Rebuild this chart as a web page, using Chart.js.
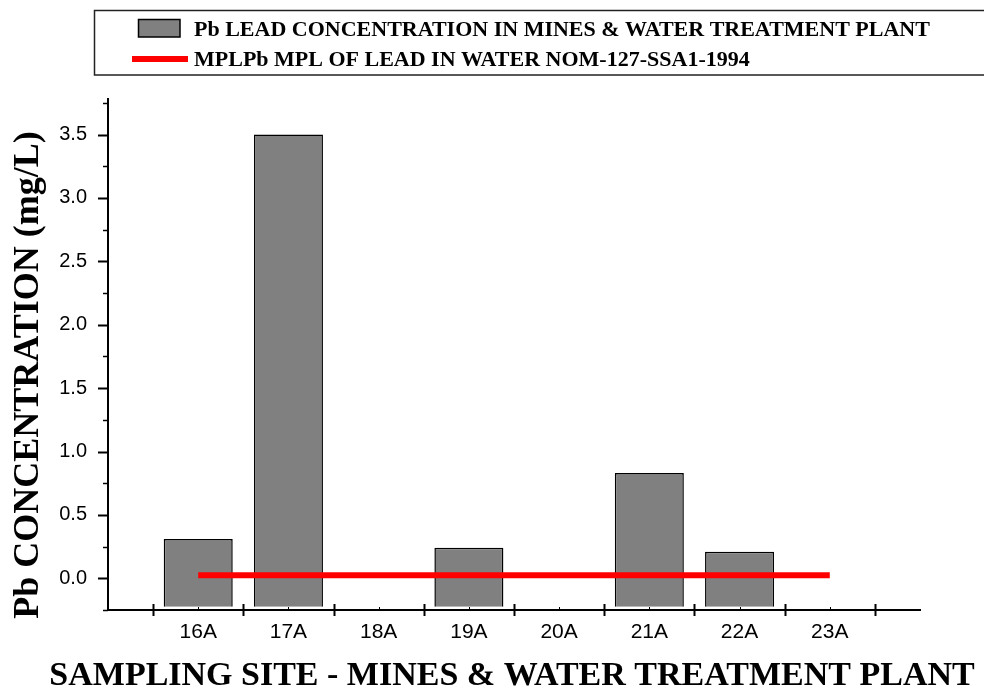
<!DOCTYPE html>
<html>
<head>
<meta charset="utf-8">
<script src="https://cdn.jsdelivr.net/npm/chart.js@4/dist/chart.umd.min.js"></script>
<style>
  html, body { margin: 0; padding: 0; background: #fff; }
  #wrap { position: relative; width: 984px; height: 689px; }
</style>
</head>
<body>
<div id="wrap"><canvas id="c" width="984" height="689"></canvas></div>
<script>
// Sampling sites along the x axis
const categories = ['16A', '17A', '18A', '19A', '20A', '21A', '22A', '23A'];
// Measured lead concentration (mg/L); null = no bar drawn
const leadValues = [0.31, 3.5, null, 0.24, null, 0.83, 0.21, null];
// Maximum permissible limit of lead in water (mg/L)
const mplValues = [0.025, 0.025, 0.025, 0.025, 0.025, 0.025, 0.025, 0.025];
// Labelled ticks on the concentration axis
const yTickValues = [0, 0.5, 1.0, 1.5, 2.0, 2.5, 3.0, 3.5];
// Unlabelled minor ticks on the concentration axis
const yMinorValues = [-0.25, 0.25, 0.75, 1.25, 1.75, 2.25, 2.75, 3.25, 3.75];

const leadLabel = 'Pb LEAD CONCENTRATION IN MINES & WATER TREATMENT PLANT';
const mplLabel = 'MPLPb MPL OF LEAD IN WATER NOM-127-SSA1-1994';
const xTitle = 'SAMPLING SITE - MINES & WATER TREATMENT PLANT';
const yTitle = 'Pb CONCENTRATION (mg/L)';

const SERIF = '"Liberation Serif", "Times New Roman", serif';
const SANS = '"Liberation Sans", Arial, sans-serif';
const BAR_GRAY = '#808080';
const MPL_RED = '#ff0000';

const toPoints = arr => arr.map((v, i) => ({ x: i, y: v }));

// Tick marks, legend box and axis titles
const decorations = {
  id: 'decorations',
  afterDraw(chart) {
    const ctx = chart.ctx;
    const xs = chart.scales.x, ys = chart.scales.y;
    const area = chart.chartArea;
    ctx.save();
    ctx.strokeStyle = '#000';

    // concentration axis ticks (outward)
    ctx.lineWidth = 2;
    yTickValues.forEach(v => {
      const py = Math.round(ys.getPixelForValue(v)) + 0.5;
      ctx.beginPath(); ctx.moveTo(area.left - 10, py); ctx.lineTo(area.left, py); ctx.stroke();
    });
    ctx.lineWidth = 1.5;
    yMinorValues.forEach(v => {
      const py = Math.round(ys.getPixelForValue(v)) + 0.5;
      ctx.beginPath(); ctx.moveTo(area.left - 5, py); ctx.lineTo(area.left, py); ctx.stroke();
    });

    // site axis: boundary ticks crossing the axis, small ticks at each site
    ctx.lineWidth = 2;
    for (let i = 0; i <= categories.length; i++) {
      const px = Math.round(xs.getPixelForValue(i - 0.5)) + 0.5;
      ctx.beginPath(); ctx.moveTo(px, area.bottom - 6); ctx.lineTo(px, area.bottom + 6); ctx.stroke();
    }
    ctx.lineWidth = 1;
    categories.forEach((c, i) => {
      const px = Math.round(xs.getPixelForValue(i)) + 0.5;
      ctx.beginPath(); ctx.moveTo(px, area.bottom - 3); ctx.lineTo(px, area.bottom); ctx.stroke();
    });

    // legend box
    ctx.lineWidth = 1.5;
    ctx.strokeStyle = '#222';
    ctx.strokeRect(94.5, 10.5, 900, 64.5);
    ctx.fillStyle = BAR_GRAY;
    ctx.fillRect(138, 19, 42, 18);
    ctx.strokeStyle = '#000';
    ctx.lineWidth = 1.5;
    ctx.strokeRect(138.5, 19.5, 41.5, 17.5);
    ctx.fillStyle = MPL_RED;
    ctx.fillRect(132, 56, 56, 6);

    ctx.fillStyle = '#000';
    ctx.font = 'bold 22px ' + SERIF;
    ctx.textAlign = 'left';
    ctx.textBaseline = 'alphabetic';
    ctx.fillText(leadLabel, 194, 35.5);
    ctx.fillText(mplLabel, 194, 65.5);

    // axis titles
    ctx.font = 'bold 34px ' + SERIF;
    ctx.textAlign = 'center';
    ctx.fillText(xTitle, 512, 685);
    ctx.font = 'bold 36px ' + SERIF;
    ctx.save();
    ctx.translate(38, 375);
    ctx.rotate(-Math.PI / 2);
    ctx.fillText(yTitle, 0, 0);
    ctx.restore();

    ctx.restore();
  }
};

new Chart(document.getElementById('c'), {
  type: 'bar',
  data: {
    datasets: [
      {
        type: 'bar',
        label: leadLabel,
        data: toPoints(leadValues),
        backgroundColor: BAR_GRAY,
        borderColor: '#000',
        borderWidth: 1.5,
        base: -0.225,
        barPercentage: 0.765,
        categoryPercentage: 1,
        order: 1
      },
      {
        type: 'line',
        label: mplLabel,
        data: toPoints(mplValues),
        borderColor: MPL_RED,
        borderWidth: 6,
        borderCapStyle: 'butt',
        pointRadius: 0,
        fill: false,
        order: 0
      }
    ]
  },
  options: {
    responsive: false,
    animation: false,
    devicePixelRatio: 1,
    layout: { padding: { top: 99, right: 64, left: 0, bottom: 0 } },
    plugins: {
      legend: { display: false },
      tooltip: { enabled: false },
      title: { display: false }
    },
    scales: {
      x: {
        type: 'linear',
        offset: false,
        min: -1,
        max: 8,
        grid: { display: false, drawTicks: false, offset: false },
        border: { display: true, color: '#000', width: 2 },
        afterBuildTicks(scale) {
          scale.ticks = categories.map((c, i) => ({ value: i }));
        },
        afterFit(scale) { scale.height = 79; },
        ticks: {
          autoSkip: false,
          maxRotation: 0,
          padding: 10,
          color: '#000',
          font: { family: SANS, size: 21 },
          callback: v => categories[v] ?? ''
        }
      },
      y: {
        type: 'linear',
        min: -0.25,
        max: 3.78,
        grid: { display: false, drawTicks: false },
        border: { display: true, color: '#000', width: 2 },
        afterBuildTicks(scale) {
          scale.ticks = yTickValues.map(v => ({ value: v }));
        },
        afterFit(scale) { scale.width = 108; },
        ticks: {
          padding: 21,
          color: '#000',
          font: { family: SANS, size: 20 },
          callback: v => Number(v).toFixed(1)
        }
      }
    }
  },
  plugins: [decorations]
});
</script>
</body>
</html>
